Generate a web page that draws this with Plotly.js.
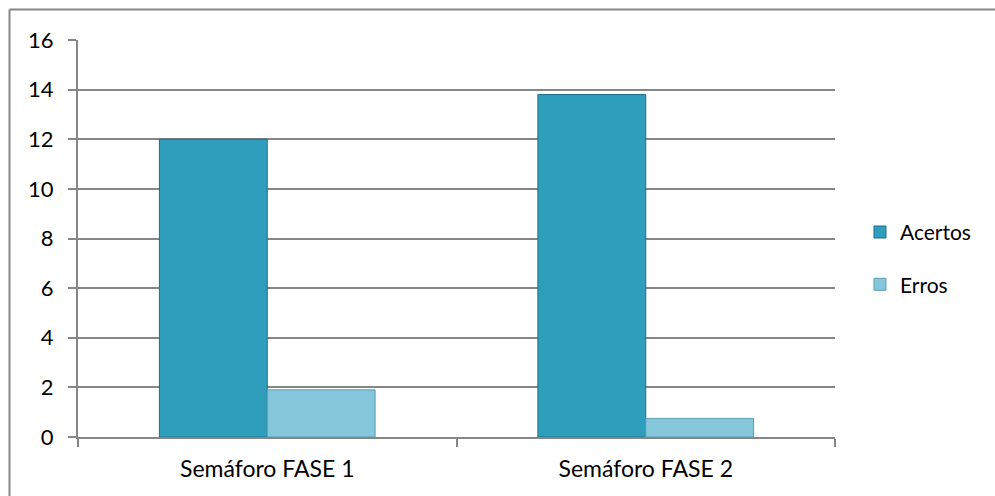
<!DOCTYPE html>
<html>
<head>
<meta charset="utf-8">
<script src="https://cdn.plot.ly/plotly-3.0.1.min.js"></script>
<style>
  html, body { margin: 0; padding: 0; background: #fff; }
  #chart { width: 995px; height: 496px; }
</style>
</head>
<body>
<div id="chart"></div>
<script>
const categories = ["Semáforo FASE 1", "Semáforo FASE 2"];
const acertos = [12, 13.8];
const erros = [1.9, 0.75];
const yTicks = [0, 2, 4, 6, 8, 10, 12, 14, 16];

const fam = "Lato, 'Open Sans', sans-serif";

const traces = [
  {
    type: "bar", name: "Acertos", x: categories, y: acertos, legendgroup: "a",
    marker: { color: "#2F9DBC", line: { color: "#1E6F86", width: 1 } }
  },
  {
    type: "bar", name: "Erros", x: categories, y: erros, legendgroup: "b",
    marker: { color: "#86C6DB", line: { color: "#5A9DB2", width: 1 } }
  }
];

const layout = {
  width: 995, height: 496,
  margin: { l: 78, r: 160, t: 40, b: 59 },
  paper_bgcolor: "#fff", plot_bgcolor: "#fff",
  font: { family: fam, size: 20, color: "#000" },
  barmode: "group",
  bargap: 0.43, bargroupgap: 0,
  showlegend: true,
  legend: {
    x: 1.033, xanchor: "left", y: 0.45, yanchor: "middle",
    font: { family: fam, size: 21, color: "#000" },
    traceorder: "grouped", tracegroupgap: 22, itemwidth: 30
  },
  xaxis: {
    type: "category",
    showline: true, linecolor: "#868686", linewidth: 2,
    ticks: "outside", tickson: "boundaries", ticklen: 8, tickcolor: "#868686", tickwidth: 2,
    showgrid: false, zeroline: false,
    ticklabelstandoff: 10,
    tickfont: { family: fam, size: 23, color: "#000" }
  },
  yaxis: {
    range: [0, 16], tickvals: yTicks, ticktext: yTicks.map(String),
    showline: true, linecolor: "#868686", linewidth: 2,
    ticks: "outside", ticklen: 8, tickcolor: "#868686", tickwidth: 2,
    showgrid: true, gridcolor: "#868686", gridwidth: 2,
    zeroline: false,
    ticklabelstandoff: 10,
    tickfont: { family: fam, size: 22, color: "#000" }
  },
  shapes: [
    { type: "line", xref: "paper", yref: "paper", x0: -0.0905, x1: 1.3, y0: 1.077, y1: 1.077,
      line: { color: "#868686", width: 2 } },
    { type: "line", xref: "paper", yref: "paper", x0: -0.0905, x1: -0.0905, y0: 1.077, y1: -0.2,
      line: { color: "#868686", width: 2 } }
  ]
};

Plotly.newPlot("chart", traces, layout, { displayModeBar: false, staticPlot: true });
</script>
</body>
</html>
